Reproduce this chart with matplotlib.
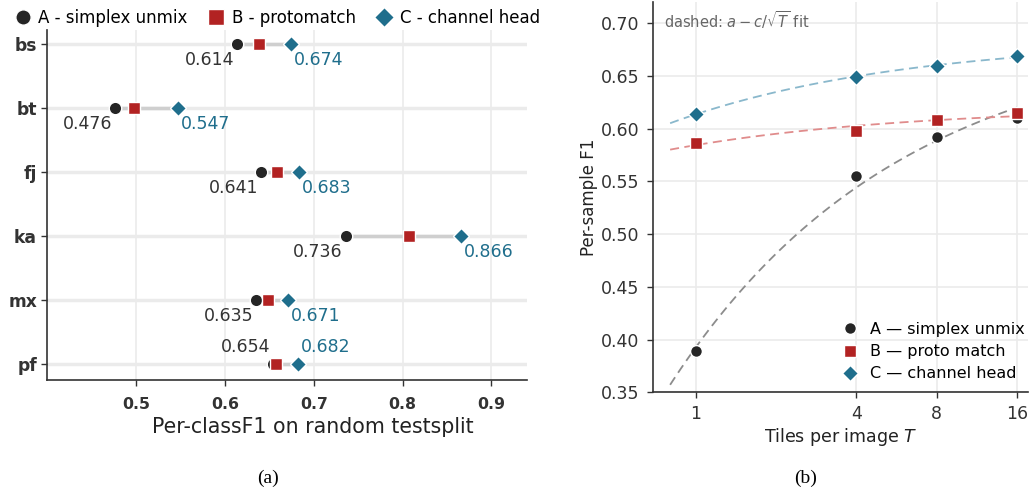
import numpy as np
import matplotlib
matplotlib.use("Agg")
import matplotlib.pyplot as plt
from matplotlib.lines import Line2D

# panel (a): per-class F1
classes = ["bs", "bt", "fj", "ka", "mx", "pf"]
f1_a = [0.614, 0.476, 0.641, 0.736, 0.635, 0.654]
f1_b = [0.638, 0.498, 0.659, 0.807, 0.649, 0.657]
f1_c = [0.674, 0.547, 0.683, 0.866, 0.671, 0.682]

# panel (b): per-sample F1 vs tiles
tiles = [1, 4, 8, 16]
ps_a = [0.389, 0.555, 0.592, 0.610]
ps_b = [0.586, 0.598, 0.608, 0.615]
ps_c = [0.614, 0.649, 0.659, 0.669]

col_a = "#252525"
col_b = "#b22222"
col_c = "#1f6e8c"
fit_a = "#8c8c8c"
fit_b = "#e08c8c"
fit_c = "#8ab8cc"
dark = "#333333"
grid_c = "#ebebeb"

plt.rcParams["font.family"] = "DejaVu Sans"

fig = plt.figure(figsize=(10.29, 4.88), dpi=100)
ax1 = fig.add_axes([0.046, 0.2213, 0.466, 0.7172])
ax2 = fig.add_axes([0.6346, 0.1957, 0.3644, 0.8002])


def style(ax):
    for s in ["top", "right"]:
        ax.spines[s].set_visible(False)
    for s in ["left", "bottom"]:
        ax.spines[s].set_color(dark)
        ax.spines[s].set_linewidth(1.2)
    ax.tick_params(colors=dark, length=4, width=1.0)
    ax.set_axisbelow(True)


# ---- (a)
style(ax1)
y = np.arange(len(classes))
for yi, a, c in zip(y, f1_a, f1_c):
    ax1.plot([a, c], [yi, yi], color="#cfcfcf", lw=2.5, zorder=2)
ax1.plot(f1_a, y, "o", color=col_a, ms=9, mec="white", mew=1, ls="none", zorder=3)
ax1.plot(f1_b, y, "s", color=col_b, ms=9, mec="white", mew=1, ls="none", zorder=4)
ax1.plot(f1_c, y, "D", color=col_c, ms=8.5, mec="white", mew=1, ls="none", zorder=5)

for yi, a, c, name in zip(y, f1_a, f1_c, classes):
    if name == "pf":
        ax1.annotate(f"{a:.3f}", (a, yi), xytext=(-2, 6), textcoords="offset points",
                     ha="right", va="bottom", fontsize=12.5, color=dark)
        ax1.annotate(f"{c:.3f}", (c, yi), xytext=(2, 6), textcoords="offset points",
                     ha="left", va="bottom", fontsize=12.5, color=col_c)
    else:
        ax1.annotate(f"{a:.3f}", (a, yi), xytext=(-2, -5), textcoords="offset points",
                     ha="right", va="top", fontsize=12.5, color=dark)
        ax1.annotate(f"{c:.3f}", (c, yi), xytext=(2, -5), textcoords="offset points",
                     ha="left", va="top", fontsize=12.5, color=col_c)

ax1.set_xlim(0.40, 0.94)
ax1.set_ylim(5.25, -0.22)
ax1.set_yticks(y)
ax1.set_yticklabels(classes, fontsize=12.3, fontweight="bold")
ax1.set_xticks([0.5, 0.6, 0.7, 0.8, 0.9])
ax1.set_xticklabels(["0.5", "0.6", "0.7", "0.8", "0.9"], fontsize=11.3, fontweight="bold")
ax1.tick_params(axis="x", pad=8)
ax1.grid(True, axis="x", color=grid_c, lw=1.2)
ax1.grid(True, axis="y", color=grid_c, lw=2.5)
ax1.set_xlabel("Per-classF1 on random testsplit", fontsize=14.8, color="#222222")
ax1.xaxis.set_label_coords(0.554, -0.105)

handles1 = [
    Line2D([], [], marker="o", color=col_a, ms=11, mec="white", ls="none", label="A - simplex unmix"),
    Line2D([], [], marker="s", color=col_b, ms=11, mec="white", ls="none", label="B - protomatch"),
    Line2D([], [], marker="D", color=col_c, ms=10, mec="white", ls="none", label="C - channel head"),
]
ax1.legend(handles=handles1, ncol=3, loc="lower left", bbox_to_anchor=(-0.083, 0.99),
           frameon=False, fontsize=12, handlelength=1.0, handletextpad=0.45,
           columnspacing=1.2, borderaxespad=0.0)

# ---- (b)
style(ax2)
Tfit = np.geomspace(0.8, 16, 100)
for vals, cf in [(ps_a, fit_a), (ps_b, fit_b), (ps_c, fit_c)]:
    slope, icept = np.polyfit(1 / np.sqrt(tiles), vals, 1)
    ax2.plot(Tfit, icept + slope / np.sqrt(Tfit), ls=(0, (5, 3)), color=cf, lw=1.3, zorder=2)

ax2.plot(tiles, ps_a, "o", color=col_a, ms=8.5, mec="white", mew=1, ls="none", zorder=3,
         label="A — simplex unmix")
ax2.plot(tiles, ps_b, "s", color=col_b, ms=8.5, mec="white", mew=1, ls="none", zorder=4,
         label="B — proto match")
ax2.plot(tiles, ps_c, "D", color=col_c, ms=7.8, mec="white", mew=1, ls="none", zorder=5,
         label="C — channel head")

ax2.set_xscale("log", base=2)
ax2.set_xlim(0.69, 17.6)
ax2.set_xticks(tiles)
ax2.set_xticklabels([str(t) for t in tiles], fontsize=12.5)
ax2.minorticks_off()
ax2.set_ylim(0.35, 0.72)
yt = [0.35, 0.40, 0.45, 0.50, 0.55, 0.60, 0.65, 0.70]
ax2.set_yticks(yt)
ax2.set_yticklabels([f"{v:.2f}" for v in yt], fontsize=12.5)
ax2.tick_params(axis="y", pad=6)
ax2.tick_params(axis="x", pad=5)
ax2.grid(True, color=grid_c, lw=1.2)
ax2.set_xlabel("Tiles per image $T$", fontsize=12.5, color="#222222", labelpad=2)
ax2.set_ylabel("Per-sample F1", fontsize=12, color="#222222", labelpad=2)
ax2.text(0.03, 0.955, r"dashed: $a-c/\sqrt{T}$ fit", transform=ax2.transAxes,
         fontsize=10.5, color="#666666", va="center", ha="left")
ax2.legend(loc="lower right", frameon=False, fontsize=11.5, handlelength=1.0,
           handletextpad=0.7, labelspacing=0.45, borderaxespad=0.3,
           bbox_to_anchor=(1.02, 0.0))

fig.text(0.2605, 0.02, "(a)", family="Liberation Serif", fontsize=14, ha="center", va="center")
fig.text(0.783, 0.02, "(b)", family="Liberation Serif", fontsize=14, ha="center", va="center")

fig.savefig("out.png", dpi=100)
